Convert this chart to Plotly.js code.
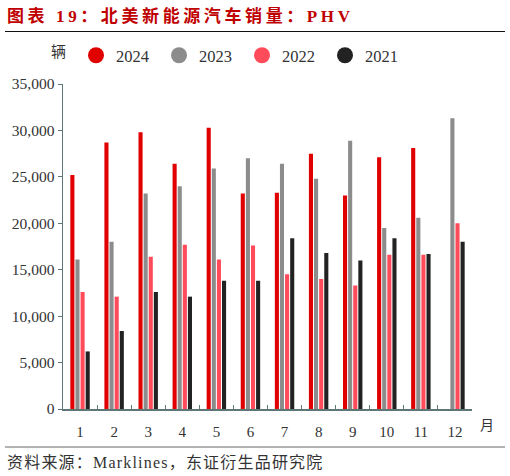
<!DOCTYPE html>
<html>
<head>
<meta charset="utf-8">
<script src="https://cdn.plot.ly/plotly-3.0.1.min.js"></script>
<style>
  html, body { margin: 0; padding: 0; background: #fff; }
  #chart { width: 510px; height: 476px; }
  /* the source spaces out the CJK title and the source line */
  #chart g.annotation[data-index="0"] text { letter-spacing: 3.6px; }
  #chart g.annotation[data-index="3"] text { letter-spacing: 1.2px; }
</style>
</head>
<body>
<div id="chart"></div>
<script>
// monthly PHV sales in North America, units
var months = ['1','2','3','4','5','6','7','8','9','10','11','12'];
var sales2024 = [25200, 28700, 29800, 26400, 30300, 23200, 23300, 27500, 23000, 27100, 28100, null];
var sales2023 = [16100, 18000, 23200, 24000, 25900, 27000, 26400, 24800, 28900, 19500, 20600, 31300];
var sales2022 = [12600, 12100, 16400, 17700, 16100, 17600, 14500, 14000, 13300, 16600, 16600, 20000];
var sales2021 = [6200, 8400, 12600, 12100, 13800, 13800, 18400, 16800, 16000, 18400, 16700, 18000];

var seriesNames = ['2024', '2023', '2022', '2021'];
var seriesColors = ['#E00000', '#8C8C8C', '#FF4B5A', '#222222'];
var seriesValues = [sales2024, sales2023, sales2022, sales2021];

var serif = '"Liberation Serif", "DejaVu Serif", "Noto Sans CJK SC", serif';

var data = [];
for (var i = 0; i < seriesNames.length; i++) {
    data.push({
        type: 'bar',
        x: months,
        y: seriesValues[i],
        name: seriesNames[i],
        marker: {color: seriesColors[i]},
        showlegend: false
    });
}
// round legend swatches, like the source
for (var i = 0; i < seriesNames.length; i++) {
    data.push({
        type: 'scatter',
        mode: 'markers',
        x: [null],
        y: [null],
        name: seriesNames[i],
        marker: {color: seriesColors[i], size: 18, symbol: 'circle'},
        showlegend: true
    });
}

var W = 510, H = 476;
var margin = {l: 63, r: 38, t: 84, b: 67};
var axisColor = '#5E7676';

// page pixels -> paper coords
function px2paperX(px) { return (px - margin.l) / (W - margin.l - margin.r); }
function px2paperY(py) { return (H - margin.b - py) / (H - margin.t - margin.b); }

var layout = {
    width: W,
    height: H,
    margin: margin,
    paper_bgcolor: '#fff',
    plot_bgcolor: '#fff',
    font: {family: serif, size: 14, color: '#333'},
    barmode: 'group',
    bargap: 0.4,
    bargroupgap: 0.2,
    showlegend: true,
    legend: {
        orientation: 'h',
        x: px2paperX(76), xanchor: 'left',
        y: px2paperY(38), yanchor: 'top',
        font: {family: serif, size: 16.5, color: '#333'},
        entrywidth: 38,
        itemsizing: 'trace',
        bgcolor: 'rgba(0,0,0,0)'
    },
    xaxis: {
        type: 'category',
        showline: true,
        linecolor: axisColor,
        linewidth: 1.5,
        ticks: 'inside',
        tickson: 'boundaries',
        ticklen: 4,
        tickcolor: axisColor,
        showgrid: false,
        zeroline: false,
        ticklabelstandoff: 8,
        tickfont: {family: serif, size: 15, color: '#333'}
    },
    yaxis: {
        range: [0, 35000],
        dtick: 5000,
        tickformat: ',',
        showline: true,
        linecolor: axisColor,
        linewidth: 1.5,
        ticks: 'outside',
        ticklen: 4,
        tickcolor: axisColor,
        showgrid: false,
        zeroline: false,
        tickfont: {family: serif, size: 15.5, color: '#333'}
    },
    annotations: [
        {
            text: '<b>图表 19：北美新能源汽车销量：PHV</b>',
            x: px2paperX(5), y: px2paperY(16), xanchor: 'left', yanchor: 'middle', align: 'left',
            font: {family: serif, size: 17, color: '#C00000'}
        },
        {
            text: '辆',
            x: px2paperX(58), y: px2paperY(52), xanchor: 'center', yanchor: 'middle',
            font: {family: serif, size: 15, color: '#333'}
        },
        {
            text: '月',
            x: px2paperX(487), y: px2paperY(425), xanchor: 'center', yanchor: 'middle',
            font: {family: serif, size: 14, color: '#333'}
        },
        {
            text: '资料来源：Marklines，东证衍生品研究院',
            x: px2paperX(5), y: px2paperY(462), xanchor: 'left', yanchor: 'middle', align: 'left',
            font: {family: serif, size: 16, color: '#333'}
        }
    ],
    shapes: [
        {type: 'line', xref: 'paper', yref: 'paper',
         x0: px2paperX(5), x1: px2paperX(505), y0: px2paperY(31.5), y1: px2paperY(31.5),
         line: {color: '#111', width: 1}},
        {type: 'line', xref: 'paper', yref: 'paper',
         x0: px2paperX(5), x1: px2paperX(505), y0: px2paperY(447), y1: px2paperY(447),
         line: {color: '#666', width: 1}}
    ]
};
layout.annotations.forEach(function (a) {
    a.xref = 'paper';
    a.yref = 'paper';
    a.showarrow = false;
});

Plotly.newPlot('chart', data, layout, {displayModeBar: false, staticPlot: true});
</script>
</body>
</html>
